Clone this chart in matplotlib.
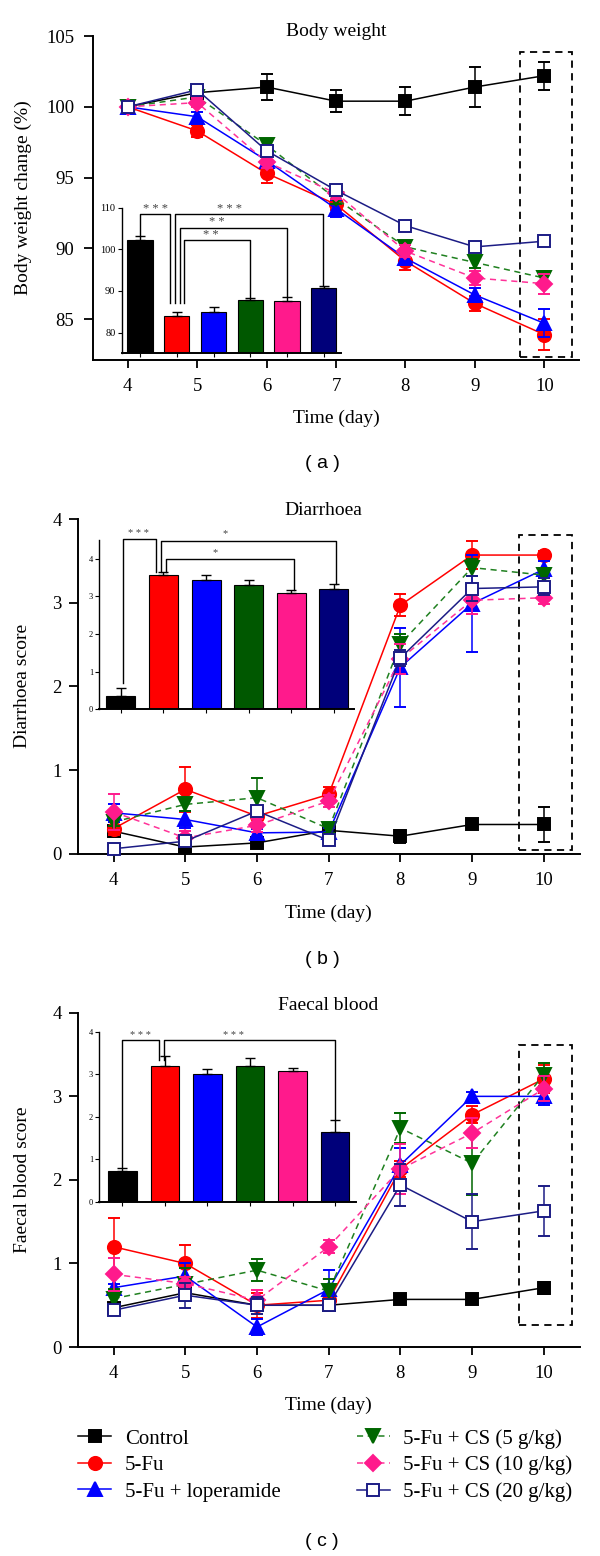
import matplotlib
matplotlib.use('Agg')
import matplotlib.pyplot as plt
from matplotlib.patches import Rectangle

plt.rcParams['font.family'] = ['Liberation Serif', 'DejaVu Serif']

# ---------------- data ----------------
days = [4, 5, 6, 7, 8, 9, 10]
groups = ['Control', '5-Fu', '5-Fu + loperamide',
          '5-Fu + CS (5 g/kg)', '5-Fu + CS (10 g/kg)', '5-Fu + CS (20 g/kg)']

# Body weight change (%)
bw_control = [100.0, 101.0, 101.4, 100.4, 100.4, 101.4, 102.2]
bw_5fu = [100.0, 98.3, 95.3, 93.1, 89.1, 86.1, 83.9]
bw_lop = [100.0, 99.3, 96.2, 92.8, 89.3, 86.7, 84.7]
bw_cs5 = [100.0, 100.7, 97.3, 93.5, 90.1, 89.0, 87.9]
bw_cs10 = [100.0, 100.3, 96.1, 93.9, 89.8, 87.9, 87.5]
bw_cs20 = [100.0, 101.2, 96.9, 94.1, 91.6, 90.1, 90.5]
bw_control_err = [0.1, 0.5, 0.9, 0.8, 1.0, 1.4, 1.0]
bw_5fu_err = [0.1, 0.4, 0.7, 0.4, 0.6, 0.5, 1.1]
bw_lop_err = [0.1, 0.3, 0.4, 0.6, 0.4, 0.5, 1.0]
bw_cs5_err = [0.1, 0.3, 0.4, 0.4, 0.4, 0.4, 0.5]
bw_cs10_err = [0.1, 0.3, 0.4, 0.4, 0.4, 0.5, 0.7]
bw_cs20_err = [0.1, 0.3, 0.4, 0.3, 0.2, 0.3, 0.3]
bw_bar = [102.3, 83.9, 84.9, 87.8, 87.6, 90.7]
bw_bar_err = [0.9, 1.1, 1.3, 0.6, 1.0, 0.5]

# Diarrhoea score
di_control = [0.27, 0.08, 0.13, 0.28, 0.21, 0.35, 0.35]
di_5fu = [0.30, 0.77, 0.45, 0.71, 2.97, 3.57, 3.57]
di_lop = [0.49, 0.41, 0.25, 0.26, 2.23, 2.99, 3.40]
di_cs5 = [0.38, 0.59, 0.67, 0.30, 2.51, 3.42, 3.33]
di_cs10 = [0.50, 0.19, 0.34, 0.63, 2.33, 3.03, 3.06]
di_cs20 = [0.06, 0.15, 0.51, 0.16, 2.34, 3.17, 3.19]
di_control_err = [0.04, 0.04, 0.04, 0.04, 0.08, 0.05, 0.21]
di_5fu_err = [0.08, 0.27, 0.08, 0.09, 0.13, 0.17, 0.05]
di_lop_err = [0.11, 0.10, 0.05, 0.05, 0.47, 0.58, 0.10]
di_cs5_err = [0.05, 0.08, 0.23, 0.05, 0.12, 0.10, 0.08]
di_cs10_err = [0.22, 0.08, 0.08, 0.07, 0.18, 0.17, 0.08]
di_cs20_err = [0.04, 0.05, 0.05, 0.05, 0.10, 0.15, 0.10]
di_bar = [0.35, 3.57, 3.43, 3.30, 3.09, 3.20]
di_bar_err = [0.21, 0.07, 0.14, 0.14, 0.08, 0.13]

# Faecal blood score
fb_control = [0.47, 0.65, 0.50, 0.50, 0.57, 0.57, 0.71]
fb_5fu = [1.20, 1.00, 0.50, 0.56, 2.13, 2.78, 3.21]
fb_lop = [0.71, 0.85, 0.24, 0.69, 2.18, 3.00, 3.00]
fb_cs5 = [0.58, 0.75, 0.92, 0.67, 2.62, 2.20, 3.26]
fb_cs10 = [0.87, 0.76, 0.56, 1.20, 2.13, 2.56, 3.09]
fb_cs20 = [0.44, 0.62, 0.50, 0.50, 1.94, 1.50, 1.63]
fb_control_err = [0.05, 0.05, 0.05, 0.05, 0.03, 0.03, 0.07]
fb_5fu_err = [0.34, 0.22, 0.15, 0.05, 0.10, 0.10, 0.17]
fb_lop_err = [0.05, 0.15, 0.10, 0.23, 0.20, 0.05, 0.10]
fb_cs5_err = [0.12, 0.20, 0.13, 0.15, 0.18, 0.38, 0.14]
fb_cs10_err = [0.20, 0.08, 0.12, 0.08, 0.30, 0.18, 0.15]
fb_cs20_err = [0.05, 0.15, 0.10, 0.05, 0.25, 0.33, 0.30]
fb_bar = [0.72, 3.20, 3.00, 3.20, 3.08, 1.63]
fb_bar_err = [0.08, 0.22, 0.13, 0.19, 0.07, 0.29]

# ---------------- styles ----------------
line_colors = ['#000000', '#ff0000', '#0000ff', '#1f801f', '#ff3399', '#1c1c85']
marker_colors = ['#000000', '#ff0000', '#0000ff', '#006600', '#ff1a8c', '#1c1c85']
marker_faces = ['#000000', '#ff0000', '#0000ff', '#006600', '#ff1a8c', 'white']
markers = ['s', 'o', '^', 'v', 'D', 's']
msizes = [9, 9.5, 10, 10, 8, 9]
lstyles = ['-', '-', '-', (0, (4, 3)), (0, (4, 3)), '-']
bar_colors = ['#000000', '#ff0000', '#0000ff', '#005800', '#ff1a8c', '#00007a']

fig = plt.figure(figsize=(6, 15.56), dpi=100)


def style_main(ax, xpad_y, ypad):
    for s in ['top', 'right']:
        ax.spines[s].set_visible(False)
    for s in ['left', 'bottom']:
        ax.spines[s].set_linewidth(1.4)
    ax.tick_params(axis='y', length=6.5, width=1.3, pad=ypad, labelsize=13.5)
    ax.tick_params(axis='x', length=5.5, width=1.3, pad=xpad_y, labelsize=13.5)
    ax.set_xlim(3.5, 10.5)
    ax.set_xticks(days)


def draw_lines(ax, series, errs):
    handles = []
    for i in range(6):
        cont = ax.errorbar(days, series[i], yerr=errs[i], color=line_colors[i],
                           ls=lstyles[i], lw=1.1, marker=markers[i], ms=msizes[i],
                           mfc=marker_faces[i], mec=marker_colors[i], mew=1.4,
                           ecolor=marker_colors[i], elinewidth=1.1, capsize=4.5,
                           capthick=1.1, zorder=3 + i, clip_on=False)
        handles.append(cont[0])
    return handles


def inset_bars(rect, vals, errs, ylim, yticks, labelsize, width):
    ax = fig.add_axes(rect)
    ax.patch.set_alpha(0)
    x = list(range(6))
    ax.bar(x, vals, width=width, color=bar_colors, edgecolor='black', linewidth=0.8,
           zorder=2)
    ax.errorbar(x, vals, yerr=[[0] * 6, errs], fmt='none', ecolor='black',
                elinewidth=1.0, capsize=3.5, capthick=1.0, zorder=3)
    for s in ['top', 'right']:
        ax.spines[s].set_visible(False)
    ax.spines['left'].set_linewidth(1.0)
    ax.spines['bottom'].set_linewidth(1.4)
    ax.set_ylim(*ylim)
    ax.set_yticks(yticks)
    ax.set_xticks(x)
    ax.set_xticklabels([])
    ax.tick_params(axis='y', length=3, width=0.8, pad=1.5, labelsize=labelsize)
    ax.tick_params(axis='x', length=3, width=0.8, direction='out')
    return ax


def bracket(ax, x1, x2, ytop, y1, y2, text, tx, ty, fs):
    ax.plot([x1, x1, x2, x2], [y1, ytop, ytop, y2], color='black', lw=1.0,
            clip_on=False, zorder=4)
    ax.text(tx, ty, text, ha='center', va='center', fontsize=fs, color='#444444',
            clip_on=False)


# ================= panel (a) =================
axa = fig.add_axes([0.155, 0.7686, 0.81, 0.2082])
style_main(axa, 7.5, 7)
axa.set_ylim(82.1, 105)
axa.set_yticks([85, 90, 95, 100, 105])
handles = draw_lines(axa, [bw_control, bw_5fu, bw_lop, bw_cs5, bw_cs10, bw_cs20],
                     [bw_control_err, bw_5fu_err, bw_lop_err, bw_cs5_err,
                      bw_cs10_err, bw_cs20_err])
axa.add_patch(Rectangle((9.65, 82.3), 0.75, 21.6, fill=False, ec='black', lw=1.3,
                        ls=(0, (4, 3)), clip_on=False))
axa.set_ylabel('Body weight change (%)', fontsize=14)
axa.yaxis.set_label_coords(-0.126, 0.5)
axa.set_xlabel('Time (day)', fontsize=14)
axa.xaxis.set_label_coords(0.5, -0.154)
axa.text(0.5, 1.013, 'Body weight', transform=axa.transAxes, ha='center',
         va='center', fontsize=14)

ia = inset_bars([0.2028, 0.7729, 0.3655, 0.0936], bw_bar, bw_bar_err, (75, 110),
                [80, 90, 100, 110], 7.5, 0.69)
ia.set_xlim(-0.5, 5.47)
bracket(ia, 0.0, 0.81, 108.4, 103.4, 87.0, '* * *', 0.41, 109.6, 9)
bracket(ia, 0.96, 4.97, 108.4, 87.0, 91.3, '* * *', 2.44, 109.6, 9)
bracket(ia, 1.08, 4.0, 105.1, 87.0, 88.7, '* *', 2.1, 106.5, 9)
bracket(ia, 1.21, 3.0, 102.2, 87.0, 88.5, '* *', 1.94, 103.5, 9)

# ================= panel (b) =================
axb = fig.add_axes([0.1295, 0.4513, 0.8367, 0.2151])
style_main(axb, 7.5, 5)
axb.set_ylim(0, 4)
axb.set_yticks([0, 1, 2, 3, 4])
draw_lines(axb, [di_control, di_5fu, di_lop, di_cs5, di_cs10, di_cs20],
           [di_control_err, di_5fu_err, di_lop_err, di_cs5_err, di_cs10_err,
            di_cs20_err])
axb.add_patch(Rectangle((9.66, 0.04), 0.73, 3.77, fill=False, ec='black', lw=1.3,
                        ls=(0, (4, 3)), clip_on=False))
axb.set_ylabel('Diarrhoea score', fontsize=14)
axb.yaxis.set_label_coords(-0.0936, 0.5)
axb.set_xlabel('Time (day)', fontsize=14)
axb.xaxis.set_label_coords(0.499, -0.152)
axb.text(0.49, 1.025, 'Diarrhoea', transform=axb.transAxes, ha='center',
         va='center', fontsize=14)

ib = inset_bars([0.1658, 0.5442, 0.4242, 0.1088], di_bar, di_bar_err, (0, 4.5),
                [0, 1, 2, 3, 4], 6, 0.68)
ib.set_xlim(-0.5, 5.47)
bracket(ib, 0.04, 0.83, 4.52, 0.71, 3.66, '* * *', 0.42, 4.66, 7.5)
bracket(ib, 0.94, 5.04, 4.48, 3.66, 3.33, '*', 2.44, 4.66, 7.5)
bracket(ib, 1.07, 4.07, 3.99, 3.66, 3.17, '*', 2.22, 4.17, 7.5)

# ================= panel (c) =================
axc = fig.add_axes([0.1295, 0.1343, 0.8367, 0.2148])
style_main(axc, 7.5, 5)
axc.set_ylim(0, 4)
axc.set_yticks([0, 1, 2, 3, 4])
draw_lines(axc, [fb_control, fb_5fu, fb_lop, fb_cs5, fb_cs10, fb_cs20],
           [fb_control_err, fb_5fu_err, fb_lop_err, fb_cs5_err, fb_cs10_err,
            fb_cs20_err])
axc.add_patch(Rectangle((9.66, 0.26), 0.73, 3.36, fill=False, ec='black', lw=1.3,
                        ls=(0, (4, 3)), clip_on=False))
axc.set_ylabel('Faecal blood score', fontsize=14)
axc.yaxis.set_label_coords(-0.0936, 0.5)
axc.set_xlabel('Time (day)', fontsize=14)
axc.xaxis.set_label_coords(0.499, -0.149)
axc.text(0.4986, 1.021, 'Faecal blood', transform=axc.transAxes, ha='center',
         va='center', fontsize=14)

ic = inset_bars([0.1658, 0.2277, 0.4273, 0.1093], fb_bar, fb_bar_err, (0, 4),
                [0, 1, 2, 3, 4], 6, 0.68)
ic.set_xlim(-0.54, 5.49)
bracket(ic, 0.0, 0.85, 3.80, 0.82, 3.33, '* * *', 0.43, 3.90, 7.5)
bracket(ic, 0.97, 4.99, 3.80, 3.33, 1.92, '* * *', 2.61, 3.90, 7.5)

# ================= legend =================
leg_kw = dict(frameon=False, fontsize=15, handlelength=1.6, handletextpad=0.64,
              labelspacing=0.33, borderpad=0, borderaxespad=0, loc='upper left')
fig.legend(handles[:3], groups[:3], bbox_to_anchor=(78 / 600, 1 - 1429 / 1556),
           **leg_kw)
fig.legend(handles[3:], groups[3:], bbox_to_anchor=(356.7 / 600, 1 - 1429 / 1556),
           **leg_kw)

# ================= panel labels =================
for lab, yy in [('( a )', 463), ('( b )', 959), ('( c )', 1541.7)]:
    fig.text(322 / 600, 1 - yy / 1556, lab, ha='center', va='center',
             fontsize=14, family=['Liberation Sans', 'DejaVu Sans'])

fig.savefig('out.png', dpi=100)
